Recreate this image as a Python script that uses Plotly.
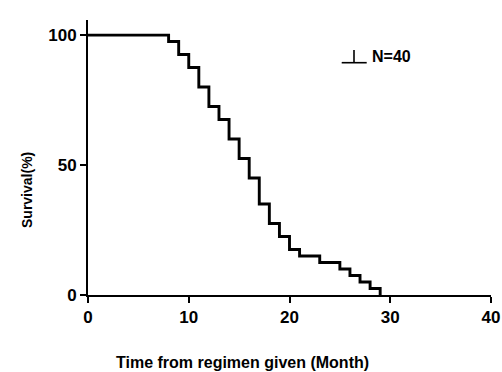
import plotly.graph_objects as go

# Kaplan-Meier step data
event_times = [0, 8, 9, 10, 11, 12, 13, 14, 15, 16, 17, 18, 19, 20, 21, 23, 25, 26, 27, 28, 29]
survival = [100, 97.5, 92.5, 87.5, 80, 72.5, 67.5, 60, 52.5, 45, 35, 27.5, 22.5, 17.5, 15, 12.5, 10, 7.5, 5, 2.5, 0]

x_ticks = [0, 10, 20, 30, 40]
y_ticks = [0, 50, 100]

FONT = "Liberation Sans, Arial, sans-serif"

L, R, T, B = 88, 491, 20, 295
W, H = R - L, B - T

fig = go.Figure()
fig.add_trace(go.Scatter(
    x=event_times, y=survival, mode="lines",
    line=dict(shape="hv", color="black", width=2.9),
    showlegend=False, cliponaxis=False, hoverinfo="skip",
))

fig.update_layout(
    width=502, height=372,
    margin=dict(l=L, r=502 - R, t=T, b=372 - B, autoexpand=False),
    plot_bgcolor="white", paper_bgcolor="white",
    font=dict(family=FONT, color="black", size=16, weight="bold"),
    xaxis=dict(range=[0, 40], tickvals=x_ticks, showgrid=False, zeroline=False,
               showline=True, linecolor="black", linewidth=2, automargin=False,
               ticks="outside", ticklen=6, tickwidth=2, tickcolor="black",
               tickfont=dict(size=17)),
    yaxis=dict(range=[0, 105.8], tickvals=y_ticks, showgrid=False, zeroline=False,
               showline=True, linecolor="black", linewidth=2, automargin=False,
               ticks="outside", ticklen=6, tickwidth=2, tickcolor="black",
               tickfont=dict(size=17)),
    annotations=[
        dict(text="Time from regimen given (Month)", xref="paper", yref="paper",
             x=(242 - L) / W, y=-(362 - B) / H, xanchor="center", yanchor="middle",
             showarrow=False, font=dict(size=16)),
        dict(text="Survival(%)", xref="paper", yref="paper",
             x=-(L - 27) / W, y=(B - 190) / H, xanchor="center", yanchor="middle",
             textangle=-90, showarrow=False, font=dict(size=14)),
        dict(text="N=40", xref="paper", yref="paper",
             x=(370 - L) / W, y=(B - 57) / H, xanchor="left", yanchor="middle",
             showarrow=False, font=dict(size=16)),
    ],
    shapes=[
        dict(type="line", xref="paper", yref="paper",
             x0=(341.7 - L) / W, x1=(366.7 - L) / W,
             y0=(B - 62.7) / H, y1=(B - 62.7) / H,
             line=dict(color="black", width=1.6)),
        dict(type="line", xref="paper", yref="paper",
             x0=(354 - L) / W, x1=(354 - L) / W,
             y0=(B - 62.7) / H, y1=(B - 50) / H,
             line=dict(color="black", width=1.6)),
    ],
)

fig.write_html("out.html", config={"displayModeBar": False},
               post_script="document.body.style.margin='0';document.body.style.overflow='hidden';")
